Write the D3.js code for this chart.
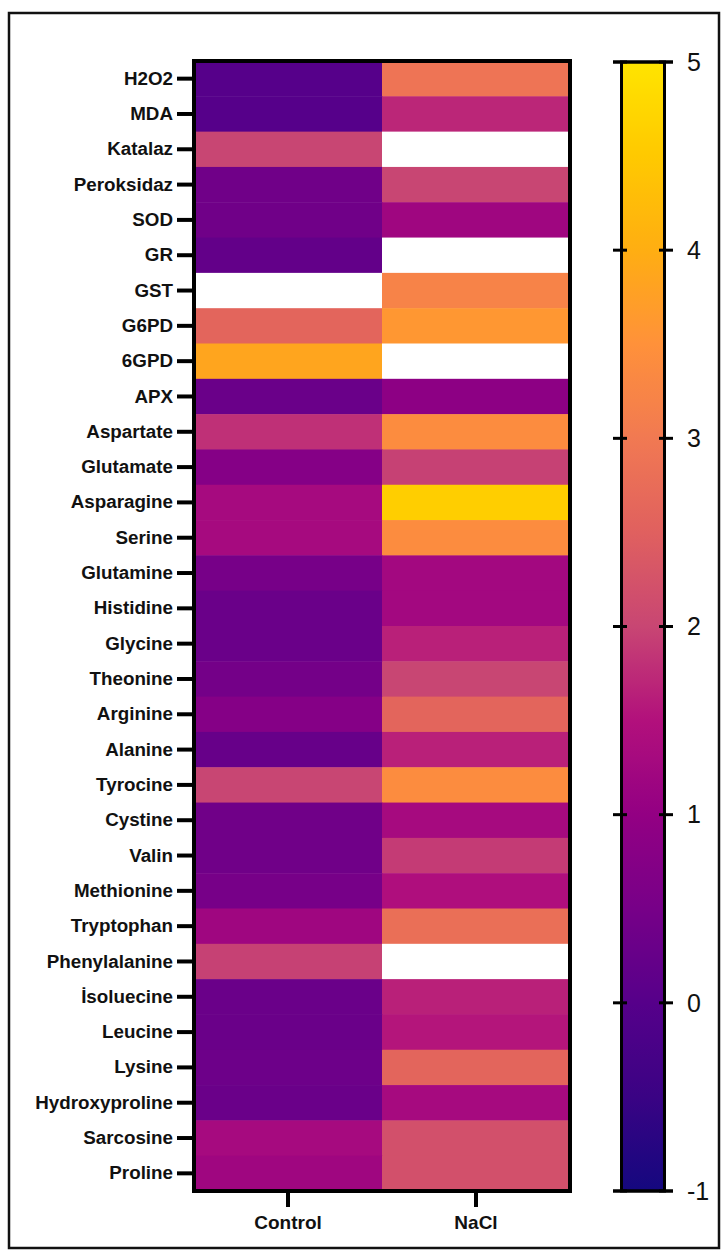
<!DOCTYPE html>
<html>
<head>
<meta charset="utf-8">
<script src="https://cdn.jsdelivr.net/npm/d3@7"></script>
<style>
  body { margin: 0; background: #fff; }
  svg { display: block; }
  .rowlab { font-family: "Liberation Sans", Arial, sans-serif; font-weight: bold; font-size: 18.8px; fill: #111; }
  .collab { font-family: "Liberation Sans", Arial, sans-serif; font-weight: bold; font-size: 19px; fill: #111; }
  .cblab { font-family: "Liberation Sans", Arial, sans-serif; font-size: 25px; fill: #111; }
</style>
</head>
<body>
<svg width="728" height="1251"></svg>
<script>
// data
var rows = ["H2O2", "MDA", "Katalaz", "Peroksidaz", "SOD", "GR", "GST", "G6PD", "6GPD", "APX",
    "Aspartate", "Glutamate", "Asparagine", "Serine", "Glutamine", "Histidine", "Glycine", "Theonine",
    "Arginine", "Alanine", "Tyrocine", "Cystine", "Valin", "Methionine", "Tryptophan", "Phenylalanine",
    "İsoluecine", "Leucine", "Lysine", "Hydroxyproline", "Sarcosine", "Proline"];
var groups = ["Control", "NaCl"];
// null = missing value (white cell)
var controlValues = [0.0, 0.0, 2.0, 0.4, 0.4, 0.2, null, 2.6, 3.85, 0.3,
    1.8, 0.75, 1.3, 1.3, 0.5, 0.3, 0.3, 0.45,
    0.75, 0.25, 2.0, 0.4, 0.4, 0.5, 1.2, 1.95,
    0.3, 0.3, 0.35, 0.3, 1.3, 1.2];
var naclValues = [2.9, 1.7, null, 2.0, 1.2, null, 3.2, 3.6, null, 0.9,
    3.4, 1.95, 4.6, 3.4, 1.25, 1.25, 1.65, 2.0,
    2.6, 1.65, 3.4, 1.3, 1.9, 1.45, 2.8, null,
    1.65, 1.55, 2.6, 1.3, 2.2, 2.2];
var colorTicks = [-1, 0, 1, 2, 3, 4, 5];

// colour ramp
var rampStops = [-1, -0.5, 0, 0.5, 1, 1.5, 2, 2.5, 3, 3.5, 4, 4.5, 5];
var rampColors = ["#14087f", "#3a0384", "#56008a", "#770088", "#930083", "#b2107c", "#c84673",
    "#e0605f", "#f17952", "#ff913a", "#ffae12", "#ffc900", "#ffe400"];

var svg = d3.select("svg");

var color = d3.scaleLinear()
    .domain(rampStops)
    .range(rampColors)
    .interpolate(d3.interpolateRgb)
    .clamp(true);

// outer frame
svg.append("rect")
    .attr("x", 9).attr("y", 13)
    .attr("width", 710).attr("height", 1235)
    .attr("fill", "none")
    .attr("stroke", "#111")
    .attr("stroke-width", 2.5);

var x = d3.scaleBand().domain(groups).range([194, 570]);
var y = d3.scaleBand().domain(rows).range([61, 1191]);

var cells = [];
rows.forEach(function(r, i) {
    cells.push({row: r, group: "Control", value: controlValues[i]});
    cells.push({row: r, group: "NaCl", value: naclValues[i]});
});

var g = svg.append("g");

g.selectAll("rect.cell")
    .data(cells)
    .enter().append("rect")
    .attr("class", "cell")
    .attr("x", function(d) { return x(d.group); })
    .attr("y", function(d) { return y(d.row); })
    .attr("width", x.bandwidth() + 0.5)
    .attr("height", y.bandwidth() + 0.5)
    .attr("fill", function(d) { return d.value == null ? "#fff" : color(d.value); });

// heatmap frame
g.append("rect")
    .attr("x", 194).attr("y", 61)
    .attr("width", 376).attr("height", 1130)
    .attr("fill", "none")
    .attr("stroke", "#000")
    .attr("stroke-width", 4);

// y axis
var yAxis = g.append("g")
    .attr("transform", "translate(192,0)")
    .call(d3.axisLeft(y).tickSize(15).tickPadding(4));
yAxis.select(".domain").remove();
yAxis.selectAll(".tick line").attr("stroke", "#000").attr("stroke-width", 4);
yAxis.selectAll(".tick text").attr("class", "rowlab").attr("font-size", null).attr("font-family", null).attr("fill", null);

// x axis
var xAxis = g.append("g")
    .attr("transform", "translate(0,1193)")
    .call(d3.axisBottom(x).tickSize(14).tickPadding(9));
xAxis.select(".domain").remove();
xAxis.selectAll(".tick line").attr("stroke", "#000").attr("stroke-width", 4);
xAxis.selectAll(".tick text").attr("class", "collab").attr("font-size", null).attr("font-family", null).attr("fill", null);

// colour bar
var cb = d3.scaleLinear().domain([-1, 5]).range([1191, 62]);

var grad = svg.append("defs").append("linearGradient")
    .attr("id", "ramp")
    .attr("x1", "0").attr("y1", "1").attr("x2", "0").attr("y2", "0");
d3.range(0, 61).forEach(function(i) {
    var v = -1 + i * 0.1;
    grad.append("stop")
        .attr("offset", (i / 60 * 100) + "%")
        .attr("stop-color", color(v));
});

svg.append("rect")
    .attr("x", 621.5).attr("y", cb(5))
    .attr("width", 43).attr("height", cb(-1) - cb(5))
    .attr("fill", "url(#ramp)")
    .attr("stroke", "#000")
    .attr("stroke-width", 3);

var cbt = svg.append("g").selectAll("g")
    .data(colorTicks)
    .enter().append("g")
    .attr("transform", function(d) { return "translate(0," + cb(d) + ")"; });
cbt.append("line")
    .attr("x1", 613).attr("x2", 627)
    .attr("stroke", "#000").attr("stroke-width", 3);
cbt.append("line")
    .attr("x1", 659).attr("x2", 673)
    .attr("stroke", "#000").attr("stroke-width", 3);
cbt.filter(function(d) { return d === 5 || d === -1; }).append("line")
    .attr("x1", 613).attr("x2", 673)
    .attr("stroke", "#000").attr("stroke-width", 3);
cbt.append("text")
    .attr("class", "cblab")
    .attr("x", 687)
    .attr("dy", "0.35em")
    .text(function(d) { return d; });
</script>
</body>
</html>
